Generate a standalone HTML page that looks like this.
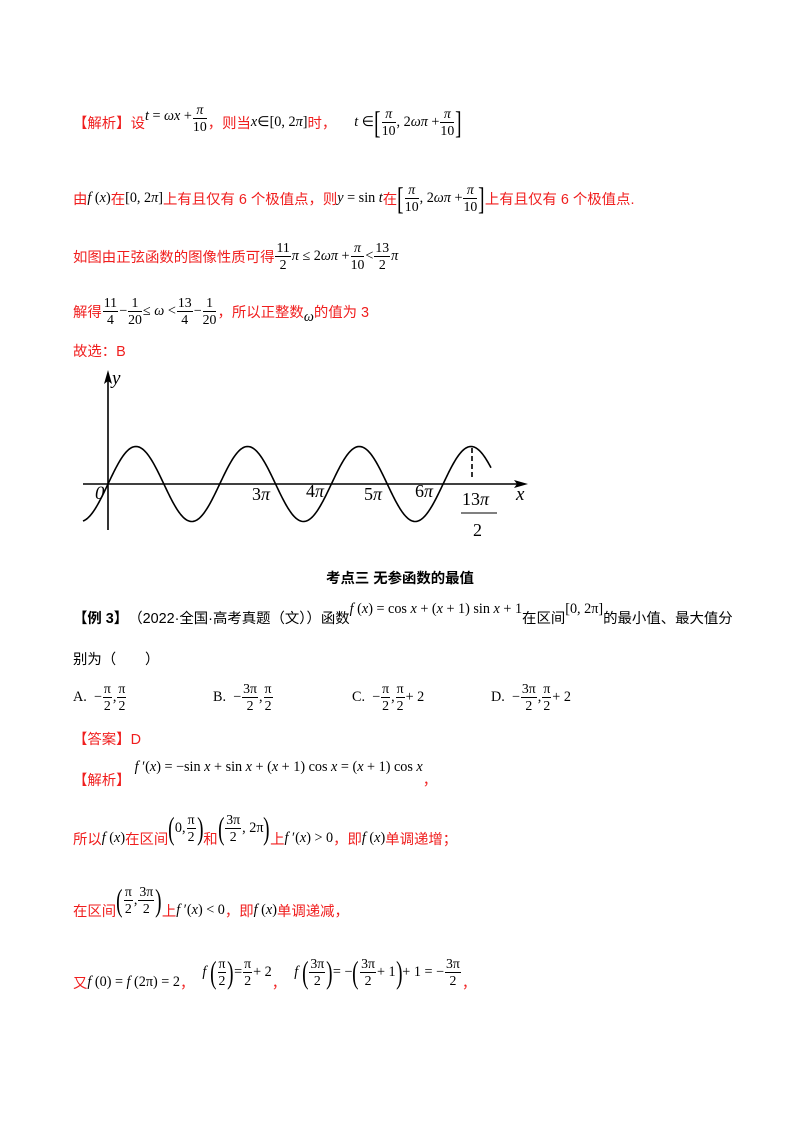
<!DOCTYPE html>
<html><head><meta charset="utf-8">
<style>
body{margin:0;background:#fff;}
#pg{position:relative;width:800px;height:1132px;overflow:hidden;font-family:"Liberation Serif","Noto Serif CJK SC",serif;font-size:14px;color:#000;}
.ln{position:absolute;height:0;display:flex;align-items:center;white-space:nowrap;}
.r{color:#f01e1e;font-family:"Liberation Sans","Noto Sans CJK SC",sans-serif;font-size:14.4px;}
.k{font-family:"Liberation Sans","Noto Sans CJK SC",sans-serif;font-size:14.4px;}
.m{font-family:"Liberation Serif",serif;font-size:14.2px;color:#000;}
i{font-style:italic;}
.fr{display:inline-flex;flex-direction:column;text-align:center;vertical-align:middle;font-size:13.8px;line-height:16px;margin:0 1px;}
.fr>span:first-child{border-bottom:1px solid #000;padding:0 1px;}
.big{font-size:32px;line-height:32px;display:inline-block;transform:scaleX(0.6);font-weight:normal;margin:0 -2px;}
</style></head><body><div id="pg">

<div class="ln" style="left:73px;top:122px;"><span class="r">【解析】设</span><span class="m" style="position:relative;top:-6px"><i>t</i> = <i>ωx</i> + </span><span class="fr m" style="position:relative;top:-4px"><span><i>π</i></span><span>10</span></span><span class="r">，则当</span><span class="m"><i>x</i>∈[0, 2<i>π</i>]</span><span class="r">时，</span>
<span class="m" style="margin-left:18px"><i>t</i> ∈</span><span class="m big">[</span><span class="fr m"><span><i>π</i></span><span>10</span></span><span class="m">, 2<i>ωπ</i> + </span><span class="fr m"><span><i>π</i></span><span>10</span></span><span class="m big">]</span></div>

<div class="ln" style="left:73px;top:198px;"><span class="r">由 </span><span class="m"><i>f</i> (<i>x</i>)</span><span class="r">在</span><span class="m">[0, 2<i>π</i>]</span><span class="r">上有且仅有 6 个极值点，则 </span><span class="m"><i>y</i> = sin <i>t</i> </span><span class="r">在</span><span class="m big">[</span><span class="fr m"><span><i>π</i></span><span>10</span></span><span class="m">, 2<i>ωπ</i> + </span><span class="fr m"><span><i>π</i></span><span>10</span></span><span class="m big">]</span><span class="r">上有且仅有 6 个极值点.</span></div>

<div class="ln" style="left:73px;top:256px;"><span class="r">如图由正弦函数的图像性质可得</span><span class="fr m"><span>11</span><span>2</span></span><span class="m"><i>π</i> ≤ 2<i>ωπ</i> + </span><span class="fr m"><span><i>π</i></span><span>10</span></span><span class="m"> &lt; </span><span class="fr m"><span>13</span><span>2</span></span><span class="m"><i>π</i></span></div>

<div class="ln" style="left:73px;top:311px;"><span class="r">解得</span><span class="fr m"><span>11</span><span>4</span></span><span class="m">−</span><span class="fr m"><span>1</span><span>20</span></span><span class="m"> ≤ <i>ω</i> &lt; </span><span class="fr m"><span>13</span><span>4</span></span><span class="m">−</span><span class="fr m"><span>1</span><span>20</span></span><span class="r">，所以正整数</span><span class="m" style="position:relative;top:6px"><i>ω</i></span><span class="r">的值为 3</span></div>

<div class="ln" style="left:73px;top:350px;"><span class="r">故选：B</span></div>

<svg style="position:absolute;left:0;top:0" width="800" height="560">
<g stroke="#000" fill="none" stroke-width="1.6">
<line x1="108" y1="376" x2="108" y2="530"/>
<line x1="83" y1="484" x2="520" y2="484"/>
<path id="sw" d=""/>
<line x1="472" y1="448" x2="472" y2="478" stroke-dasharray="5,3"/>
<line x1="461" y1="513" x2="497" y2="513" stroke-width="1"/>
</g>
<path d="M108 370 L104 384 L108 381 L112 384Z" fill="#000"/>
<path d="M528 484 L514 480 L517 484 L514 488Z" fill="#000"/>
<g font-family="Liberation Serif,serif" font-size="19" font-style="italic">
<text x="112" y="384">y</text>
<text x="516" y="500">x</text>
<text x="95" y="499">0</text>
</g>
<g font-family="Liberation Serif,serif" font-size="18">
<text x="252" y="500">3<tspan font-style="italic">π</tspan></text>
<text x="306" y="497">4<tspan font-style="italic">π</tspan></text>
<text x="364" y="500">5<tspan font-style="italic">π</tspan></text>
<text x="415" y="497">6<tspan font-style="italic">π</tspan></text>
<text x="462" y="505">13<tspan font-style="italic">π</tspan></text>
<text x="473" y="536">2</text>
</g>
</svg>
<script>
var d="",P=111.7;for(var x=83;x<=491;x+=1){var y=484-37.5*Math.sin(2*Math.PI*(x-108)/P);d+=(x==83?"M":"L")+x+" "+y.toFixed(2)+" ";}
document.getElementById("sw").setAttribute("d",d);
</script>

<div class="ln k" style="left:0;width:800px;justify-content:center;top:577px;font-weight:bold;">考点三 无参函数的最值</div>

<div class="ln k" style="left:73px;top:617px;"><b>【例 3】</b><span>（2022·全国·高考真题（文））函数</span><span class="m" style="position:relative;top:-8px"><i>f</i> (<i>x</i>) = cos <i>x</i> + (<i>x</i> + 1) sin <i>x</i> + 1</span><span>在区间</span><span class="m" style="position:relative;top:-8px">[0, 2π]</span><span>的最小值、最大值分</span></div>

<div class="ln k" style="left:73px;top:658px;">别为（　　）</div>

<div class="ln m" style="left:73px;top:697px;"><span>A.&nbsp;&nbsp;−</span><span class="fr"><span>π</span><span>2</span></span>,<span class="fr"><span>π</span><span>2</span></span></div>
<div class="ln m" style="left:213px;top:697px;"><span>B.&nbsp;&nbsp;−</span><span class="fr"><span>3π</span><span>2</span></span>,<span class="fr"><span>π</span><span>2</span></span></div>
<div class="ln m" style="left:352px;top:697px;"><span>C.&nbsp;&nbsp;−</span><span class="fr"><span>π</span><span>2</span></span>,<span class="fr"><span>π</span><span>2</span></span><span>+ 2</span></div>
<div class="ln m" style="left:491px;top:697px;"><span>D.&nbsp;&nbsp;−</span><span class="fr"><span>3π</span><span>2</span></span>,<span class="fr"><span>π</span><span>2</span></span><span>+ 2</span></div>

<div class="ln r" style="left:73px;top:738px;">【答案】D</div>

<div class="ln" style="left:73px;top:779px;"><span class="r">【解析】</span><span class="m" style="position:relative;top:-12px;margin-left:4px"><i>f</i> ′(<i>x</i>) = −sin <i>x</i> + sin <i>x</i> + (<i>x</i> + 1) cos <i>x</i> = (<i>x</i> + 1) cos <i>x</i></span><span class="r">，</span></div>

<div class="ln" style="left:73px;top:838px;"><span class="r">所以</span><span class="m"><i>f</i> (<i>x</i>)</span><span class="r">在区间</span><span class="m" style="position:relative;top:-10px;display:inline-flex;align-items:center"><span class="big">(</span>0,<span class="fr"><span>π</span><span>2</span></span><span class="big">)</span></span><span class="r">和</span><span class="m" style="position:relative;top:-10px;display:inline-flex;align-items:center"><span class="big">(</span><span class="fr"><span>3π</span><span>2</span></span>, 2π<span class="big">)</span></span><span class="r">上</span><span class="m"><i>f</i> ′(<i>x</i>) &gt; 0</span><span class="r">，即</span><span class="m"><i>f</i> (<i>x</i>)</span><span class="r">单调递增；</span></div>

<div class="ln" style="left:73px;top:910px;"><span class="r">在区间</span><span class="m" style="position:relative;top:-10px;display:inline-flex;align-items:center"><span class="big">(</span><span class="fr"><span>π</span><span>2</span></span>,<span class="fr"><span>3π</span><span>2</span></span><span class="big">)</span></span><span class="r">上</span><span class="m"><i>f</i> ′(<i>x</i>) &lt; 0</span><span class="r">，即</span><span class="m"><i>f</i> (<i>x</i>)</span><span class="r">单调递减，</span></div>

<div class="ln" style="left:73px;top:982px;"><span class="r">又</span><span class="m"><i>f</i> (0) = <i>f</i> (2π) = 2</span><span class="r">，</span><span class="m" style="position:relative;top:-10px;display:inline-flex;align-items:center;margin-left:8px"><i>f</i>&nbsp;<span class="big">(</span><span class="fr"><span>π</span><span>2</span></span><span class="big">)</span>=<span class="fr"><span>π</span><span>2</span></span>+ 2</span><span class="r">，</span><span class="m" style="position:relative;top:-10px;display:inline-flex;align-items:center;margin-left:8px"><i>f</i>&nbsp;<span class="big">(</span><span class="fr"><span>3π</span><span>2</span></span><span class="big">)</span>= −<span class="big">(</span><span class="fr"><span>3π</span><span>2</span></span>+ 1<span class="big">)</span>+ 1 = −<span class="fr"><span>3π</span><span>2</span></span></span><span class="r">，</span></div>

</div></body></html>
